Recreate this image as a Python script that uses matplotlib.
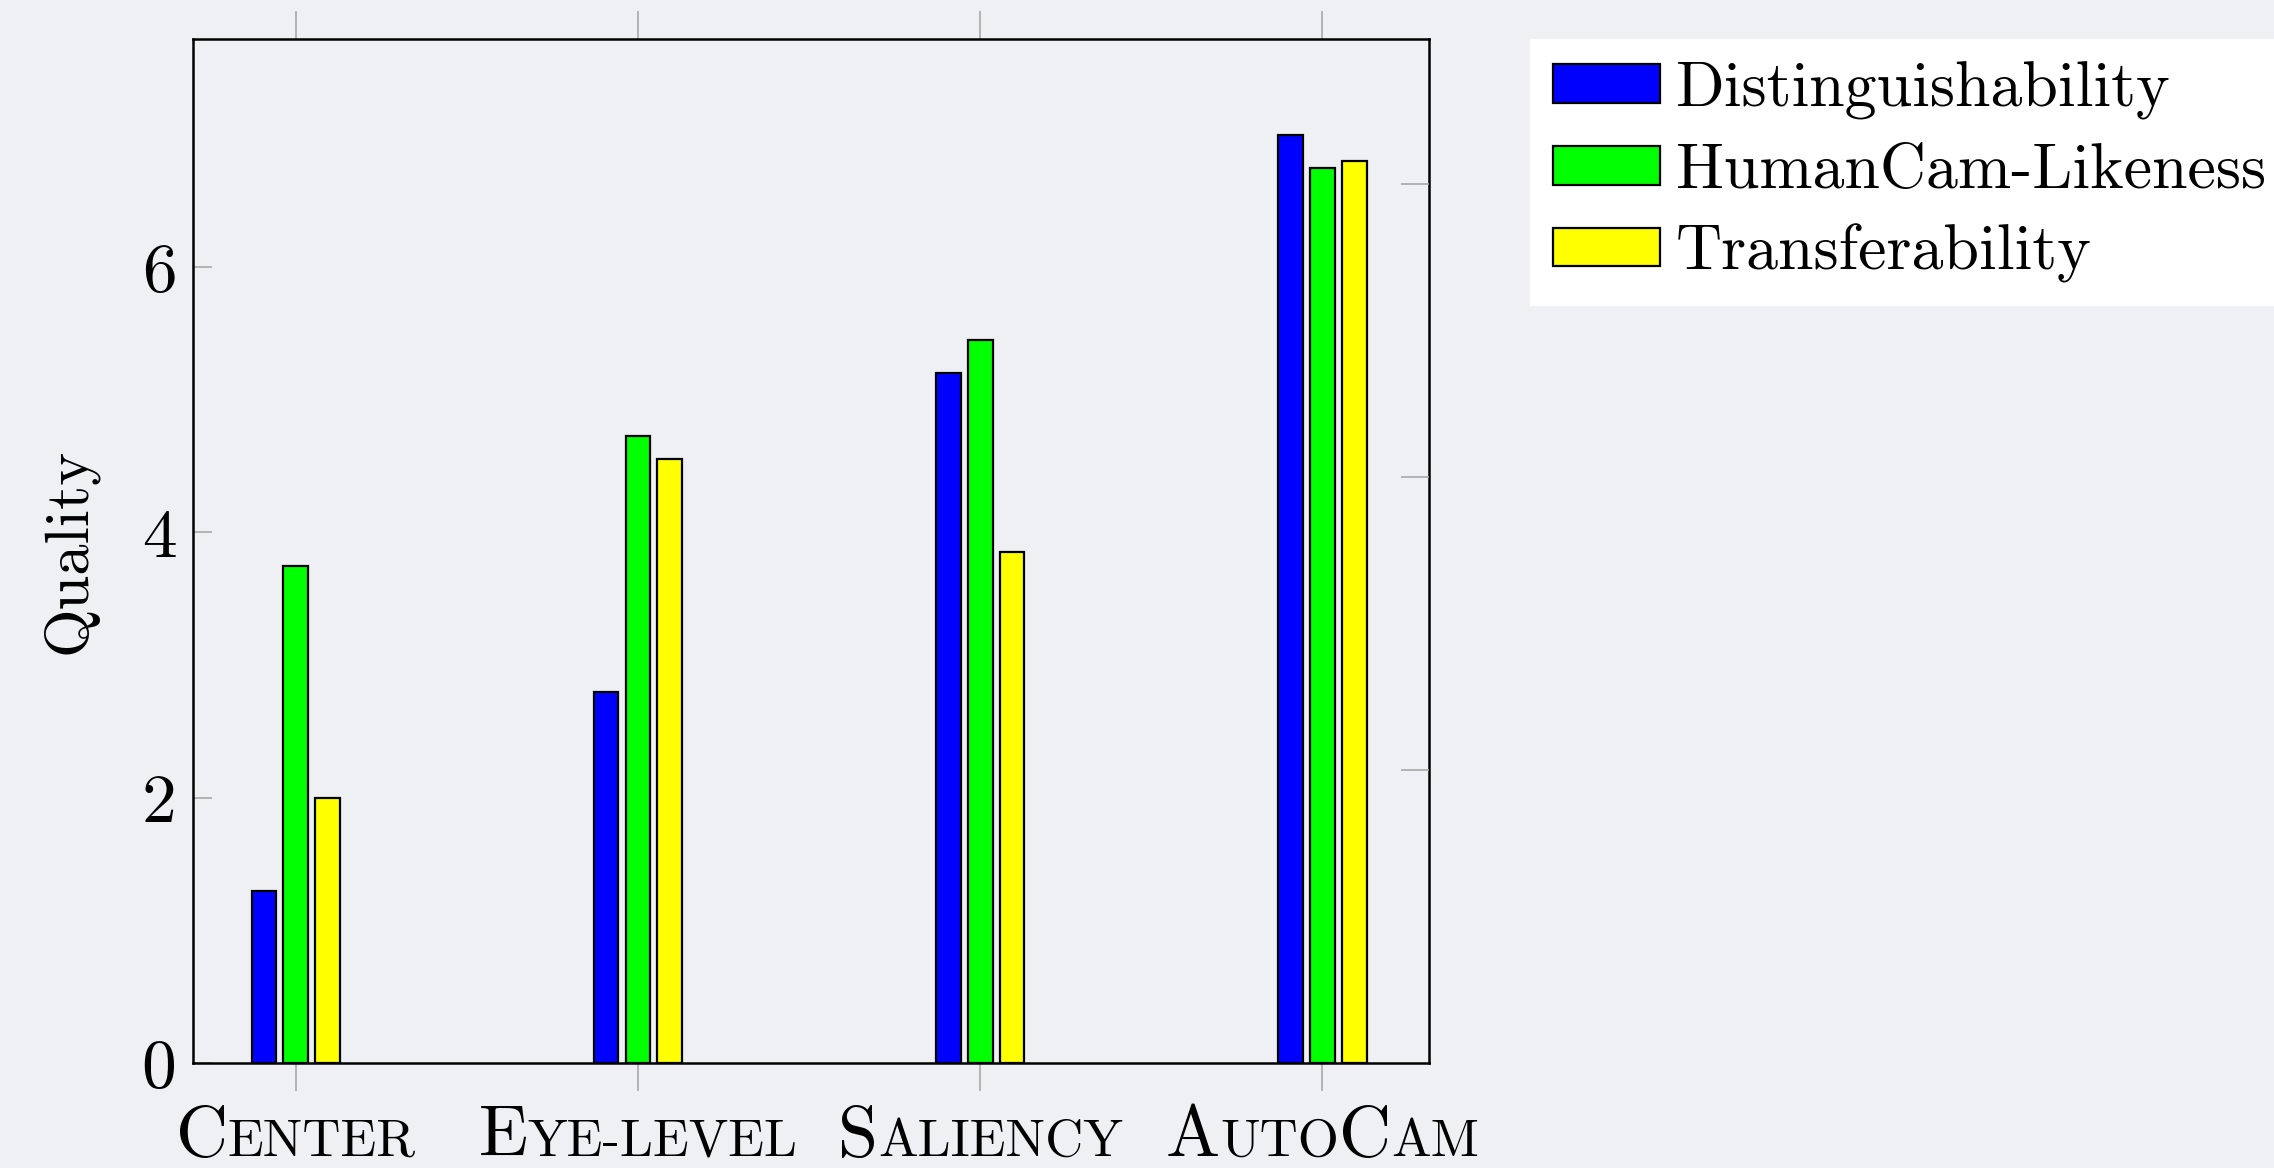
import numpy as np
import matplotlib
matplotlib.use("Agg")
import matplotlib.pyplot as plt
from matplotlib.offsetbox import TextArea, HPacker, AnnotationBbox

# values
categories = ["Center", "Eye-level", "Saliency", "AutoCam"]
# small-caps pieces for each category label: (text, is_capital)
label_parts = [
    [("C", True), ("ENTER", False)],
    [("E", True), ("YE-LEVEL", False)],
    [("S", True), ("ALIENCY", False)],
    [("A", True), ("UTO", False), ("C", True), ("AM", False)],
]
series_names = ["Distinguishability", "HumanCam-Likeness", "Transferability"]
distinguishability = [1.3, 2.8, 5.2, 7.0]
humancam_likeness = [3.75, 4.73, 5.45, 6.75]
transferability = [2.0, 4.55, 3.85, 6.8]
series_colors = ["#0000ff", "#00ff00", "#ffff00"]
y_ticks = [0, 2, 4, 6]

bg = "#eef0f3"
font = "cmr10"
tick_gray = "#a8a8a8"

fig = plt.figure(figsize=(22.74, 11.68), dpi=100, facecolor=bg)
ax = fig.add_axes([0.0849, 0.0899, 0.5433, 0.8767])
ax.set_facecolor("none")

x = np.arange(len(categories))
width = 0.072
step = 0.093
all_series = [distinguishability, humancam_likeness, transferability]
for i, (vals, name, col) in enumerate(zip(all_series, series_names, series_colors)):
    ax.bar(x + (i - 1) * step, vals, width, color=col, edgecolor="black",
           linewidth=1.6, label=name, zorder=3)

ax.set_xlim(-0.3, 3.31)
ax.set_ylim(0, 7.72)
ax.set_yticks(y_ticks)
ax.set_yticklabels([str(t) for t in y_ticks], fontfamily=font, fontsize=50)
ax.set_xticks(x)
ax.set_xticklabels([])
ax.tick_params(axis="y", direction="in", length=14, width=1.2, color=tick_gray,
               pad=12, left=True, right=False)
ax.tick_params(axis="x", direction="out", length=20, width=1.2, color=tick_gray,
               top=True, bottom=True)
for s in ax.spines.values():
    s.set_linewidth(1.8)
    s.set_color("black")

ax.set_ylabel("Quality", fontfamily=font, fontsize=45, labelpad=32)

# right-hand axis ticks (separate scale, no labels)
ax2 = ax.twinx()
ax2.set_ylim(0, 3.495)
ax2.set_yticks([1, 2, 3])
ax2.set_yticklabels([])
ax2.tick_params(axis="y", direction="in", length=20, width=1.2, color=tick_gray)
for s in ax2.spines.values():
    s.set_visible(False)

# small-caps category labels
for xi, parts in zip(x, label_parts):
    boxes = [TextArea(t, textprops=dict(fontfamily=font, fontsize=52 if cap else 38))
             for t, cap in parts]
    pack = HPacker(children=boxes, align="baseline", pad=0, sep=0)
    ab = AnnotationBbox(pack, (xi, 0), xycoords=("data", "axes fraction"),
                        xybox=(0, -30), boxcoords="offset points",
                        box_alignment=(0.5, 1.0), frameon=False)
    ax.add_artist(ab)

leg = fig.legend(loc="upper left", bbox_to_anchor=(0.673, 0.9666),
                 prop=dict(family=font, size=46), frameon=True, fancybox=False,
                 handlelength=1.68, handleheight=0.56, handletextpad=0.25,
                 labelspacing=0.36, borderpad=0.35, borderaxespad=0)
leg.get_frame().set_facecolor("white")
leg.get_frame().set_edgecolor("white")
leg.get_frame().set_alpha(1)

fig.savefig("out.png", dpi=100, facecolor=bg)
